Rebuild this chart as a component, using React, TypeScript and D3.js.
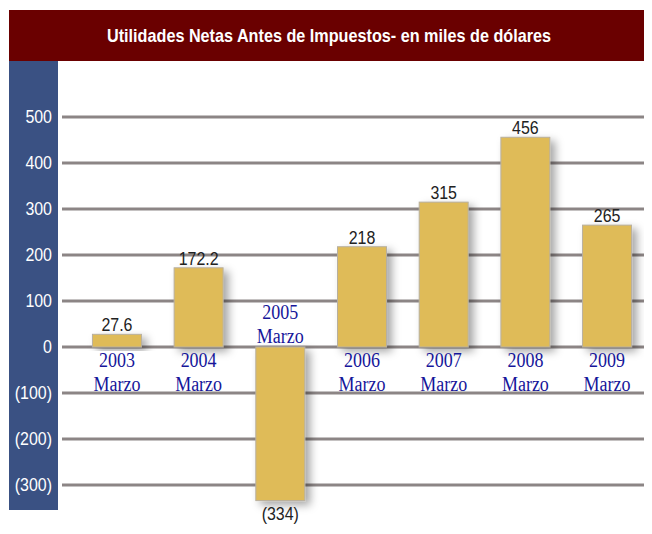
import React from 'react'
import * as d3 from 'd3'

// values in thousands of dollars, fiscal year ending in March
const years = ['2003', '2004', '2005', '2006', '2007', '2008', '2009']
const monthLabel = 'Marzo'
const profits = [27.6, 172.2, -334, 218, 315, 456, 265]
const valueLabels = ['27.6', '172.2', '(334)', '218', '315', '456', '265']
const yTicks = [500, 400, 300, 200, 100, 0, -100, -200, -300]
const title = 'Utilidades Netas Antes de Impuestos- en miles de dólares'

const width = 644
const height = 526
const sans = '"Liberation Sans", Arial, sans-serif'
const serif = '"Liberation Serif", "Times New Roman", serif'

const fmtTick = (v: number) => (v < 0 ? `(${Math.abs(v)})` : `${v}`)

// fake a condensed face by squeezing horizontally
function Narrow(props: {x: number; y: number; anchor: string; fill: string; size: number; children: React.ReactNode}) {
  return (
    <text
      transform={`translate(${props.x},${props.y}) scale(0.84,1)`}
      textAnchor={props.anchor}
      fill={props.fill}
      fontFamily={sans}
      fontSize={props.size}
    >
      {props.children}
    </text>
  )
}

export default function App() {
  const y = d3.scaleLinear().domain([-300, 500]).range([477, 109])
  const x = d3
    .scaleBand()
    .domain(years)
    .range([64, 644])
    .paddingInner(0.4)
    .paddingOuter(0.25)

  const bw = x.bandwidth()

  return (
    <svg width={width} height={height} style={{display: 'block'}}>
      <defs>
        <filter id="barShadow" x="-30%" y="-30%" width="180%" height="160%">
          <feDropShadow dx="5" dy="4" stdDeviation="4" floodColor="#000" floodOpacity="0.35" />
        </filter>
      </defs>

      {/* title banner */}
      <rect x={1} y={2} width={width - 1} height={51} fill="#6a0000" />
      <text
        x={99}
        y={34}
        textLength={444}
        lengthAdjust="spacingAndGlyphs"
        fill="#fff"
        fontFamily={sans}
        fontWeight="bold"
        fontSize={19}
      >
        {title}
      </text>

      {/* blue axis column */}
      <rect x={1} y={53} width={49} height={449} fill="#3a5183" />

      {/* grid lines + tick labels */}
      {yTicks.map((t) => (
        <g key={t}>
          <line x1={54} x2={width} y1={y(t)} y2={y(t)} stroke="#8c8585" strokeWidth={3} />
          <Narrow x={44} y={y(t) + 6} anchor="end" fill="#fff" size={19}>
            {fmtTick(t)}
          </Narrow>
        </g>
      ))}

      {/* bars */}
      {profits.map((v, i) => {
        const x0 = x(years[i]) as number
        const top = y(Math.max(0, v))
        const h = Math.abs(y(v) - y(0))
        return (
          <rect
            key={years[i]}
            x={x0}
            y={top}
            width={bw}
            height={h}
            fill="#dfbb58"
            stroke="#b8b0a0"
            strokeWidth={1}
            filter="url(#barShadow)"
          />
        )
      })}

      {/* value labels */}
      {profits.map((v, i) => {
        const cx = (x(years[i]) as number) + bw / 2
        const ly = v >= 0 ? y(v) - 3 : y(v) + 19
        return (
          <Narrow key={'v' + years[i]} x={cx} y={ly} anchor="middle" fill="#222" size={19}>
            {valueLabels[i]}
          </Narrow>
        )
      })}

      {/* category labels */}
      {profits.map((v, i) => {
        const cx = (x(years[i]) as number) + bw / 2
        const base = v >= 0 ? y(0) + 12 : y(0) - 36
        return (
          <g key={'c' + years[i]} fill="#16169a" fontFamily={serif} fontSize={18} textAnchor="middle">
            <text transform={`translate(${cx},${base + 8}) scale(1,1.2)`}>{years[i]}</text>
            <text transform={`translate(${cx},${base + 32}) scale(1,1.2)`}>{monthLabel}</text>
          </g>
        )
      })}
    </svg>
  )
}
